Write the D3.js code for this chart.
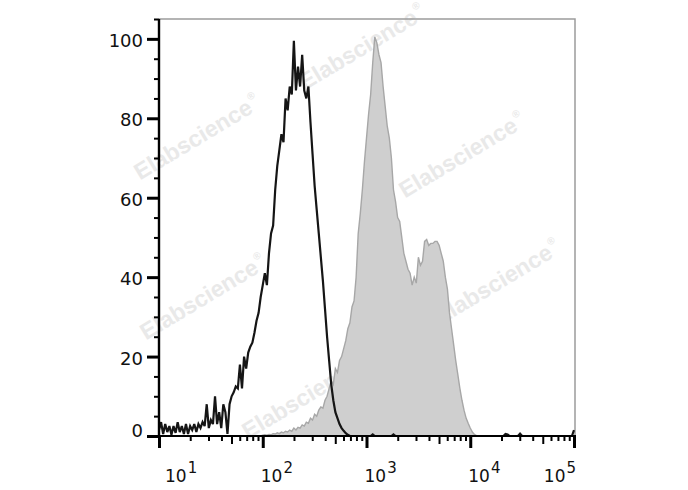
<!DOCTYPE html>
<html><head><meta charset="utf-8">
<script src="https://cdn.jsdelivr.net/npm/d3@7"></script>
<style>body{margin:0;background:#fff}svg{display:block}</style>
</head><body><svg id="c" width="688" height="490"></svg>
<script>
// ---- data ----
const binStartLog = 1;      // first bin = 10^1
const binWidthLog = 0.02;   // bin width in decades
const controlCounts = [
1.5,3.5,0.5,3,1,2.5,0.3,2.5,0.8,3.5,
1,2.5,0.5,3,0.5,2.5,1.5,3,1,3,
2,3.5,2.5,8,2,4,3,10,3,6,
2,8,6,0.5,8,10,11,12.5,12,18,
12,20,17,21,22.5,23.5,26,29,31,35,
38,41,38,46,51,53,62,68,72,76,
74,85,82,88,86,99.5,87,93,88,96,
87,85,88,79,71,63,57,51,45,39,
32,25,19,13,9,6,4.5,3,2,1.3,
0.7,0.3,0,0,0,0,0,0,0,0,
0,0,0,0.4,0,0,0,0,0,0,
0,0,0,0.4,0,0,0,0,0,0,
0,0,0,0,0,0,0,0,0,0,
0,0,0,0,0,0,0,0,0,0,
0,0,0,0,0,0,0,0,0,0,
0,0,0,0,0,0,0,0,0,0,
0,0,0,0,0,0,0,0.5,0.4,0,
0,0,0,0,0.6,0,0,0,0,0,
0,0,0,0,0,0,0,0,0,0,
0,0,0,0,0,0,0,0,0,0,
1.5];
const sampleCounts = [
0,0,0,0,0,0,0,0,0,0,
0,0,0,0,0,0,0,0,0,0,
0,0,0,0,0,0,0,0,0,0,
0,0,0,0,0,0,0,0,0,0,
0,0,0,0,0,0,0,0,0,0,
0.2,0.3,0.2,0.4,0.3,0.6,0.5,0.8,0.6,1.0,
0.8,1.2,1.0,1.5,1.2,2.0,1.5,2.2,2.0,2.8,
2.5,3.5,3.2,4.5,4.0,5.5,5.0,6.5,7.3,7.0,
9,10,12,14,13,17,16,19,20,22,
24,27,28.5,32.5,34,40,51,56,62,69,
75,81,86,94,100.5,99,96,94,88,83,
78,75,70,62,59,55,54,50,46,44,
42,41,38,40,38.5,45,43,44,49,49.5,
48,48.5,48.5,49,49,48,46,44,40,37,
31,27,23,19,15.5,12,9,6.5,4.5,3.2,
2,1,0.4,0.1,0,0,0,0,0,0,
0,0,0,0,0,0,0,0,0,0,
0,0,0,0,0,0,0,0,0,0,
0,0,0,0,0,0,0,0,0,0,
0,0,0,0,0,0,0,0,0,0,
0];
const yTicks = [0,20,40,60,80,100];
const yMinorTicks = [5,10,15,25,30,35,45,50,55,65,70,75,85,90,95,105];
const xDecades = [10,100,1000,10000,100000];
const xDecadeExp = ["1","2","3","4","5"];
const watermarkText = "Elabscience";

// ---- layout ----
const X0 = 159, X1 = 574, Y0 = 436, Y1 = 19;
const svg = d3.select("#c");
const x = d3.scaleLog().domain([10, 1e5]).range([X0, X1]);
const y = d3.scaleLinear().domain([0, 105]).range([Y0, Y1]);

const binValue = i => Math.pow(10, binStartLog + i * binWidthLog);
const control = controlCounts.map((c, i) => ({v: binValue(i), c}));
const sample = sampleCounts.map((c, i) => ({v: binValue(i), c}));

// watermarks (decoration)
const wmPos = [[197,137],[362,47],[462,155],[203,297],[497,282],[305,396]];
const wm = svg.append("g");
wmPos.forEach(([cx, cy]) => {
  const t = wm.append("text")
    .attr("transform", `translate(${cx},${cy}) rotate(-31)`)
    .attr("text-anchor", "middle").attr("y", 8)
    .attr("font-family", "Liberation Sans, Arial, sans-serif")
    .attr("font-weight", "bold").attr("font-size", 23)
    .attr("fill", "#e9e9e9");
  t.append("tspan").text(watermarkText);
  t.append("tspan").attr("font-size", 10).attr("dy", -12).attr("dx", 2).text("®");
});

// sample (filled gray)
const area = d3.area().x(d => x(d.v)).y0(y(0)).y1(d => y(d.c));
svg.append("path").datum(sample).attr("d", area).attr("fill", "#cfcfcf");
const line = d3.line().x(d => x(d.v)).y(d => y(d.c));
svg.append("path").datum(sample).attr("d", line)
  .attr("fill", "none").attr("stroke", "#a7a7a7").attr("stroke-width", 1.4);

// frame (top/right, gray)
svg.append("path").attr("d", `M${X0},${Y1}H${X1+1}V${Y0}`)
  .attr("fill", "none").attr("stroke", "#9c9c9c").attr("stroke-width", 1.5);

// control (black line)
svg.append("path").datum(control).attr("d", line)
  .attr("fill", "none").attr("stroke", "#151515").attr("stroke-width", 2.2)
  .attr("stroke-linejoin", "miter").attr("stroke-miterlimit", 3);

// ---- x axis ----
const minorX = x.ticks().filter(v => !xDecades.includes(v));
const lead = v => Math.round(v / Math.pow(10, Math.floor(Math.log10(v) + 1e-9)));
const gx = svg.append("g").attr("transform", `translate(0,${Y0})`);
gx.append("g").call(d3.axisBottom(x).tickValues(minorX.filter(v => lead(v) !== 5)).tickSize(5).tickFormat(""))
  .call(g => g.selectAll(".tick line").attr("stroke", "#000").attr("stroke-width", 2));
gx.append("g").call(d3.axisBottom(x).tickValues(minorX.filter(v => lead(v) === 5)).tickSize(8).tickFormat(""))
  .call(g => g.selectAll(".tick line").attr("stroke", "#000").attr("stroke-width", 2));
gx.append("g").call(d3.axisBottom(x).tickValues(xDecades).tickSize(12).tickFormat(""))
  .call(g => g.selectAll(".tick line").attr("stroke", "#000").attr("stroke-width", 3));
gx.selectAll(".domain").remove();
svg.append("line").attr("x1", X0).attr("x2", X1 + 2).attr("y1", Y0).attr("y2", Y0)
  .attr("stroke", "#000").attr("stroke-width", 2.2);

// x labels
xDecades.forEach((v, i) => {
  const g = svg.append("g");
  const base = g.append("text").attr("font-family", "DejaVu Sans, Verdana, sans-serif")
    .attr("font-size", 17).attr("fill", "#111").attr("y", 482).text("10");
  const bw = base.node().getComputedTextLength();
  const sup = g.append("text").attr("font-family", "DejaVu Sans, Verdana, sans-serif")
    .attr("font-size", 15).attr("fill", "#111").attr("y", 473).text(xDecadeExp[i]);
  const sw = sup.node().getComputedTextLength();
  let sx = x(v) - 2;
  sx = Math.max(X0 + 6, Math.min(sx, X1 + 2 - bw - sw - 1));
  base.attr("x", sx);
  sup.attr("x", sx + bw + 1);
});

// ---- y axis ----
const gy = svg.append("g").attr("transform", `translate(${X0},0)`);
gy.append("g").call(d3.axisLeft(y).tickValues(yMinorTicks).tickSize(5).tickFormat(""))
  .call(g => g.selectAll(".tick line").attr("stroke", "#000").attr("stroke-width", 2));
gy.append("g").call(d3.axisLeft(y).tickValues(yTicks).tickSize(12).tickPadding(4).tickFormat(d3.format("d")))
  .call(g => g.selectAll(".tick line").attr("stroke", "#000").attr("stroke-width", 3))
  .call(g => g.selectAll(".tick text").attr("font-family", "DejaVu Sans, Verdana, sans-serif")
    .attr("font-size", 18).attr("fill", "#111")
    .attr("dy", d => d === 0 ? "-0.0em" : "0.42em"));
gy.selectAll(".domain").remove();
svg.append("line").attr("x1", X0).attr("x2", X0).attr("y1", Y1).attr("y2", Y0 + 1)
  .attr("stroke", "#000").attr("stroke-width", 2.4);
</script></body></html>
